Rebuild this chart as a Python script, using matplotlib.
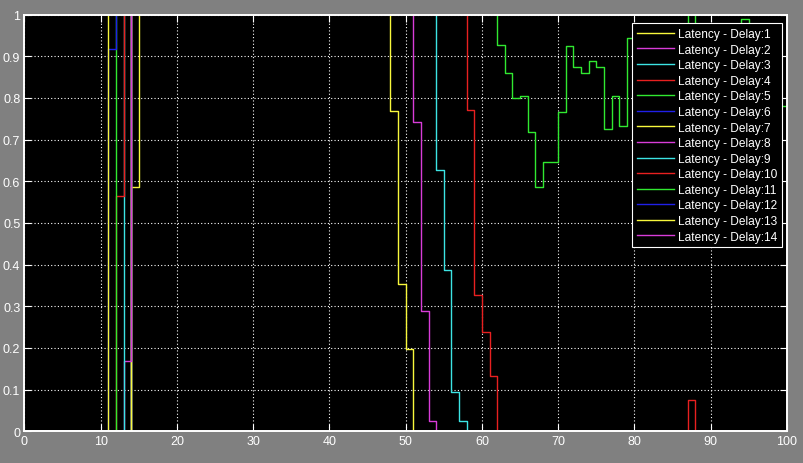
import matplotlib
matplotlib.use("Agg")
import matplotlib.pyplot as plt

plt.rcParams['font.family'] = ['Liberation Sans', 'DejaVu Sans']

HI = 1.5  # off-scale value, clipped above the top of the scope

# step edges (x) and the value held until the next edge
x1 = [0, 14, 15, 48, 49, 50, 51, 100]
y1 = [0, 0.585, HI, 0.768, 0.353, 0.197, 0, 0]
x2 = [0, 14, 51, 52, 53, 54, 100]
y2 = [0, HI, 0.741, 0.288, 0.025, 0, 0]
x3 = [0, 14, 54, 55, 56, 57, 58, 100]
y3 = [0, HI, 0.626, 0.386, 0.095, 0.025, 0, 0]
x4 = [0, 14, 58, 59, 60, 61, 62, 87, 88, 100]
y4 = [0, HI, 0.771, 0.327, 0.239, 0.132, 0, 0.075, 0, 0]
x5 = [0, 14, 62, 63, 64, 65, 66, 67, 68, 70, 71, 72, 73, 74, 75, 76, 77, 78, 79,
      81, 83, 85, 87, 88, 90, 92, 94, 95, 97, 99, 100]
y5 = [0, HI, 0.926, 0.86, 0.80, 0.804, 0.717, 0.585, 0.645, 0.765, 0.924, 0.873, 0.86,
      0.888, 0.873, 0.725, 0.804, 0.732, 0.944,
      0.88, 0.82, 0.90, HI, 0.86, 0.80, 0.90, 0.99, 0.85, 0.80, 0.78, 0.78]
x6 = [0, 14, 100]
y6 = [0, HI, HI]
x7 = [0, 14, 100]
y7 = [0, HI, HI]
x8 = [0, 13, 14, 100]
y8 = [0, 0.168, HI, HI]
x9 = [0, 13, 100]
y9 = [0, HI, HI]
x10 = [0, 12, 13, 100]
y10 = [0, 0.564, HI, HI]
x11 = [0, 12, 100]
y11 = [0, HI, HI]
x12 = [0, 11, 12, 100]
y12 = [0, 0.917, HI, HI]
x13 = [0, 11, 100]
y13 = [0, HI, HI]
x14 = [0, 100]
y14 = [HI, HI]

xs = [x1, x2, x3, x4, x5, x6, x7, x8, x9, x10, x11, x12, x13, x14]
ys = [y1, y2, y3, y4, y5, y6, y7, y8, y9, y10, y11, y12, y13, y14]
labels = ["Latency - Delay:%d" % (i + 1) for i in range(14)]

xticks = [0, 10, 20, 30, 40, 50, 60, 70, 80, 90, 100]
yticks = [0, 0.1, 0.2, 0.3, 0.4, 0.5, 0.6, 0.7, 0.8, 0.9, 1]
yticklabels = ["0", "0.1", "0.2", "0.3", "0.4", "0.5", "0.6", "0.7", "0.8", "0.9", "1"]

colors = ['#f8f83c', '#d83cd8', '#3ce4e4', '#e82020', '#30e830', '#2020e8']

fig = plt.figure(figsize=(8.04, 4.64), dpi=100, facecolor='#808080')
ax = fig.add_axes([24.5 / 804, 31.7 / 464, 762.5 / 804, 416.8 / 464])
ax.set_facecolor('black')

for i in range(14):
    ax.step(xs[i], ys[i], where='post', color=colors[i % 6], lw=1.0, label=labels[i])

ax.set_xlim(0, 100)
ax.set_ylim(0, 1)
ax.set_xticks(xticks)
ax.set_xticklabels([str(t) for t in xticks])
ax.set_yticks(yticks)
ax.set_yticklabels(yticklabels)
ax.grid(True, color='white', linestyle=(0, (1, 2)), linewidth=0.8)
ax.tick_params(direction='in', length=5, width=0.8, color='white', labelcolor='white',
               labelsize=9, top=True, right=True, pad=3)
for sp in ax.spines.values():
    sp.set_color('white')
    sp.set_linewidth(1.4)
    sp.set_zorder(3)

leg = ax.legend(loc='upper right', bbox_to_anchor=(0.993, 0.979), borderaxespad=0,
                fontsize=8.6, frameon=True, facecolor='black', edgecolor='white',
                framealpha=1, fancybox=False, handlelength=3.1, handletextpad=0.3,
                labelspacing=0.3, borderpad=0.4, labelcolor='white')
leg.get_frame().set_linewidth(0.8)
leg.set_zorder(5)

fig.savefig("out.png", dpi=100, facecolor=fig.get_facecolor())
